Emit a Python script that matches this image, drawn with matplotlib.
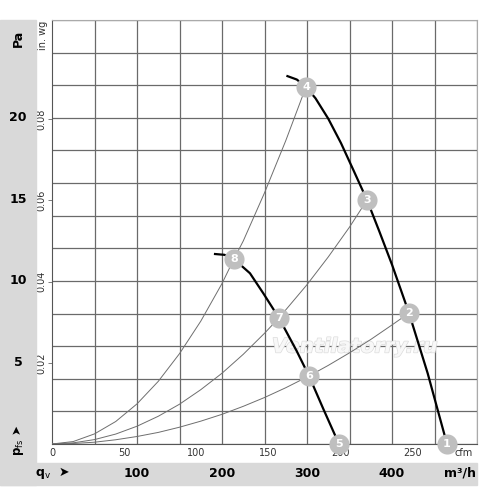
import matplotlib
matplotlib.use("Agg")
import matplotlib.pyplot as plt
import matplotlib.patheffects as pe
from matplotlib.patches import Rectangle
from matplotlib.transforms import blended_transform_factory

# airflow in m3/h, pressure in Pa
fan_high_q = [277.0, 288.0, 298.8, 310.0, 325.0, 340.0, 355.0, 370.6, 385.0, 400.0, 420.0, 442.0, 464.7]
fan_high_p = [22.56, 22.35, 21.9, 21.2, 19.95, 18.45, 16.75, 14.96, 13.05, 11.0, 8.03, 4.33, 0.0]
fan_low_q = [191.8, 203.0, 214.0, 232.9, 248.6, 267.0, 287.9, 302.4, 319.2, 337.6]
fan_low_p = [11.65, 11.6, 11.34, 10.47, 9.24, 7.73, 5.7, 4.17, 2.15, 0.0]

sys_a_q = [0, 25, 50, 75, 100, 125, 150, 175, 200, 214, 225, 250, 275, 298.8]
sys_a_p = [0, 0.15, 0.62, 1.38, 2.46, 3.84, 5.54, 7.53, 9.84, 11.34, 12.45, 15.4, 18.6, 21.9]
sys_b_q = [0, 25, 50, 75, 100, 125, 150, 175, 200, 225, 250, 267, 300, 325, 350, 370.6]
sys_b_p = [0, 0.07, 0.27, 0.61, 1.09, 1.7, 2.44, 3.33, 4.34, 5.5, 6.79, 7.73, 9.77, 11.47, 13.3, 14.96]
sys_c_q = [0, 25, 50, 75, 100, 125, 150, 175, 200, 225, 250, 275, 302.4, 325, 350, 375, 400, 420]
sys_c_p = [0, 0.03, 0.11, 0.26, 0.46, 0.71, 1.03, 1.4, 1.82, 2.31, 2.85, 3.45, 4.17, 4.82, 5.59, 6.41, 7.3, 8.03]

point_ids = ["1", "2", "3", "4", "5", "6", "7", "8"]
point_q = [464.7, 420.0, 370.6, 298.8, 337.6, 302.4, 267.0, 214.0]
point_p = [0.0, 8.03, 14.96, 21.9, 0.0, 4.17, 7.73, 11.34]

cfm_ticks = [0, 50, 100, 150, 200, 250]
m3h_labels = [100, 200, 300, 400]
pa_labels = [5, 10, 15, 20]
inwg_labels = [0.02, 0.04, 0.06, 0.08]

CFM = 1.699
INWG = 249.09

fig = plt.figure(figsize=(5, 4.87), dpi=100)
band = "#d9d9d9"
fig.patches.append(Rectangle((0, 0.004), 0.072, 0.955, transform=fig.transFigure, color=band, zorder=0))
fig.patches.append(Rectangle((0, 0.004), 0.954, 0.045, transform=fig.transFigure, color=band, zorder=0))

ax = fig.add_axes([0.104, 0.0883, 0.85, 0.8706])
ax.set_xlim(0, 500)
ax.set_ylim(0, 26)

ax.set_xticks(range(0, 501, 50), minor=True)
ax.set_yticks(range(0, 27, 2), minor=True)
ax.grid(which="minor", color="#6a6a6a", linewidth=0.9)
ax.tick_params(which="minor", length=0)

ax.set_xticks([c * CFM for c in cfm_ticks])
ax.set_xticklabels([str(c) for c in cfm_ticks], fontsize=7, color="#333333")
ax.tick_params(axis="x", which="major", length=0, pad=3)
ax.set_yticks([w * INWG for w in inwg_labels])
ax.set_yticklabels([f"{w:.2f}" for w in inwg_labels], rotation=90, va="center", fontsize=7, color="#333333")
ax.tick_params(axis="y", which="major", length=3, width=0.6, pad=1, color="#666666")

for s in ["top", "right"]:
    ax.spines[s].set_color("#aaaaaa")
for s in ["left", "bottom"]:
    ax.spines[s].set_color("#555555")

# system curves
for q, p in [(sys_a_q, sys_a_p), (sys_b_q, sys_b_p), (sys_c_q, sys_c_p)]:
    ax.plot(q, p, color="#6e6e6e", linewidth=0.7, zorder=3)

# fan curves
ax.plot(fan_high_q, fan_high_p, color="black", linewidth=1.6, zorder=4, solid_joinstyle="round")
ax.plot(fan_low_q, fan_low_p, color="black", linewidth=1.6, zorder=4, solid_joinstyle="round")

ax.scatter(point_q, point_p, s=210, color="#bfbfbf", zorder=6, clip_on=False, linewidths=0)
for lab, q, p in zip(point_ids, point_q, point_p):
    ax.text(q, p, lab, color="white", fontsize=8, fontweight="bold",
            ha="center", va="center", zorder=7, clip_on=False)

wm = ax.text(356, 5.95, "Ventilatorry.ru", fontsize=14.5, style="italic", fontweight="bold",
             color="#f8f8f8", ha="center", va="center", zorder=2)
wm.set_path_effects([pe.withStroke(linewidth=1.0, foreground="#dcdcdc")])

# left band labels
tr_y = blended_transform_factory(fig.transFigure, ax.transData)
for v in pa_labels:
    fig.text(0.036, v, str(v), transform=tr_y, fontsize=9, fontweight="bold", ha="center", va="center")
fig.text(0.036, 0.922, "Pa", fontsize=9, fontweight="bold", rotation=90, ha="center", va="center")
fig.text(0.036, 0.095, r"p$_{\rm fs}$ ➤", fontsize=8.5, fontweight="bold", rotation=90, ha="center", va="center")
fig.text(0.086, 0.928, "in. wg", fontsize=7, rotation=90, ha="center", va="center", color="#333333")

# bottom band labels
tr_x = blended_transform_factory(ax.transData, fig.transFigure)
for v in m3h_labels:
    fig.text(v, 0.028, str(v), transform=tr_x, fontsize=9, fontweight="bold", ha="center", va="center")
fig.text(0.105, 0.028, r"q$_{\rm v}$  ➤", fontsize=9, fontweight="bold", ha="center", va="center")
fig.text(0.92, 0.028, "m³/h", fontsize=9, fontweight="bold", ha="center", va="center")
fig.text(0.928, 0.069, "cfm", fontsize=7, ha="center", va="center", color="#333333")

fig.savefig("out.png", dpi=100)
